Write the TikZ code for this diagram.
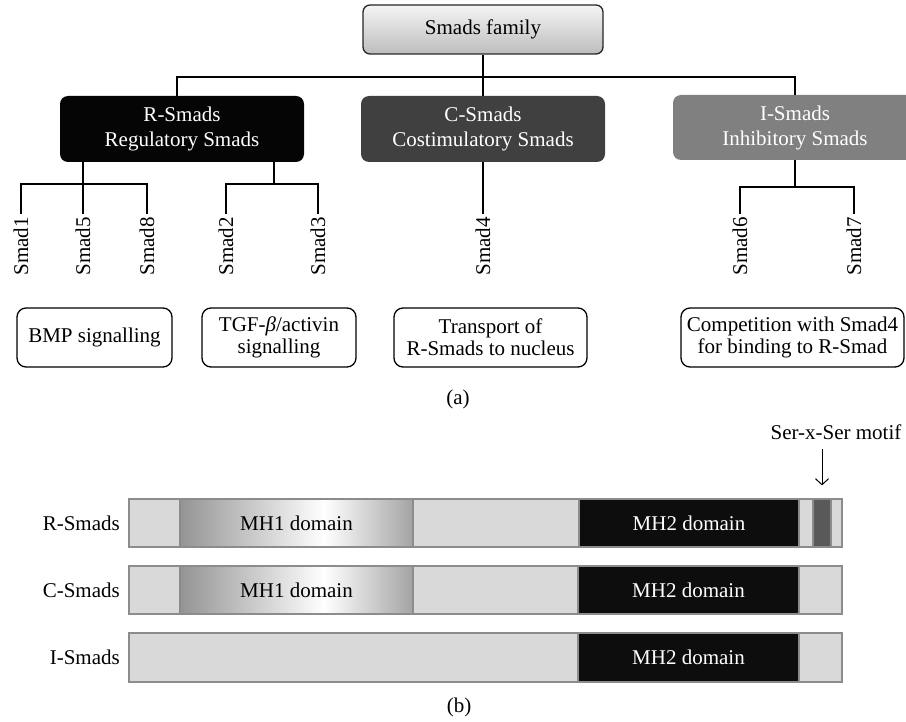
\documentclass[tikz,border=0pt]{standalone}
\usepackage{fontspec}
\setmainfont{Liberation Serif}
\usetikzlibrary{arrows.meta}
\pgfdeclarehorizontalshading{mhone}{100bp}{color(0bp)=(black!42); color(25bp)=(black!42); color(56bp)=(white); color(75bp)=(black!36); color(100bp)=(black!36)}
\begin{document}
\begin{tikzpicture}[x=1pt,y=-1pt,
  every node/.style={font=\fontsize{21}{25}\selectfont},
  conn/.style={line width=2.7pt, line join=miter},
  famstyle/.style={draw=black!85, line width=1.3pt, rounded corners=7pt, top color=black!4, bottom color=black!26, minimum width=240pt, minimum height=49pt, inner sep=0pt},
  grp/.style={rounded corners=8pt, text=white, align=center, minimum width=244pt, minimum height=66pt, inner sep=0pt},
  smadlbl/.style={rotate=90, anchor=east, inner sep=3pt},
  role/.style={draw, line width=1.3pt, rounded corners=9pt, align=center, inner sep=0pt, minimum height=59pt, font=\fontsize{21}{22}\selectfont},
  bar/.style={draw=black!45, line width=1.2pt, fill=black!15},
  mhone/.style={draw=black!45, line width=1.2pt, shading=mhone},
  mhtwo/.style={draw=black!45, line width=1.2pt, fill=black!95},
  seg/.style={draw=black!45, line width=1.2pt, fill=black!65, minimum width=18pt, minimum height=48pt, inner sep=0pt},
  rowlbl/.style={anchor=east, inner sep=0pt}
]
\useasboundingbox (0,0) rectangle (906,722);
\clip (0,0) rectangle (906,722);

% ---------- (a) ----------
\node[famstyle] (fam) at (483,29.5) {Smads family};
\node[grp, fill=black!98] (rs) at (182,129) {R-Smads\\Regulatory Smads};
\node[grp, fill=black!75] (cs) at (483,129) {C-Smads\\Costimulatory Smads};
\node[grp, fill=black!50, minimum height=65pt] (is) at (795,127.5) {I-Smads\\Inhibitory Smads};

\coordinate (j0) at (483,77);
\draw[conn] (fam.south) -- (j0);
\draw[conn] ([xshift=-5pt]rs.north) |- (j0) -| (is.north);
\draw[conn] (j0) -- (cs.north);

\node[smadlbl] (s1) at (21,214) {Smad1};
\node[smadlbl] (s5) at (83,214) {Smad5};
\node[smadlbl] (s8) at (147,214) {Smad8};
\node[smadlbl] (s2) at (226,214) {Smad2};
\node[smadlbl] (s3) at (318,214) {Smad3};
\node[smadlbl] (s4) at (483,214) {Smad4};
\node[smadlbl] (s6) at (740,214) {Smad6};
\node[smadlbl] (s7) at (854,214) {Smad7};

\coordinate (ja) at (83,184);
\coordinate (jb) at (274,184);
\coordinate (jc) at (795,187);
\draw[conn] (rs.south -| s5.east) -- (s5.east);
\draw[conn] (s1.east) |- (ja) -| (s8.east);
\draw[conn] (rs.south -| jb) -- (jb);
\draw[conn] (s2.east) |- (jb) -| (s3.east);
\draw[conn] (cs.south) -- (s4.east);
\draw[conn] (is.south) -- (jc);
\draw[conn] (s6.east) |- (jc) -| (s7.east);

\node[role, minimum width=155pt] (bmp) at (94.5,337.5) {BMP signalling};
\node[role, minimum width=154pt] (tgf) at (279,337.5) {TGF-\textit{β}/activin\\signalling};
\node[role, minimum width=193pt] (tr) at (490.5,337.5) {Transport of\\R-Smads to nucleus};
\node[role, minimum width=223pt] (comp) at (792.5,337.5) {Competition with Smad4\\for binding to R-Smad};

\node (capa) at (458,399) {(a)};

% ---------- (b) ----------
\node (motif) at (836,432) {Ser-x-Ser motif};

\draw[bar] (129,499) rectangle (842,547);
\draw[mhone] (180,499) rectangle (413,547);
\draw[mhtwo] (579,499) rectangle (799,547);
\node[seg] (sxs) at (822,523) {};
\node at (296.5,523) {MH1 domain};
\node[text=white] at (689,523) {MH2 domain};
\node[rowlbl] (lr) at (120,523) {R-Smads};

\draw[bar] (129,566) rectangle (842,614);
\draw[mhone] (180,566) rectangle (413,614);
\draw[mhtwo] (578,566) rectangle (799,614);
\node at (296.5,590) {MH1 domain};
\node[text=white] at (688.5,590) {MH2 domain};
\node[rowlbl] (lc) at (120,590) {C-Smads};

\draw[bar] (129,633) rectangle (842,682);
\draw[mhtwo] (578,633) rectangle (799,682);
\node[text=white] at (688.5,657.5) {MH2 domain};
\node[rowlbl] (li) at (120,657.5) {I-Smads};

\draw[line width=1pt, -{Straight Barb[length=6pt,width=13pt,line width=1pt]}, shorten <=6pt, shorten >=13pt] (motif.south -| sxs.north) -- (sxs.north);

\node (capb) at (459,707) {(b)};
\end{tikzpicture}
\end{document}
